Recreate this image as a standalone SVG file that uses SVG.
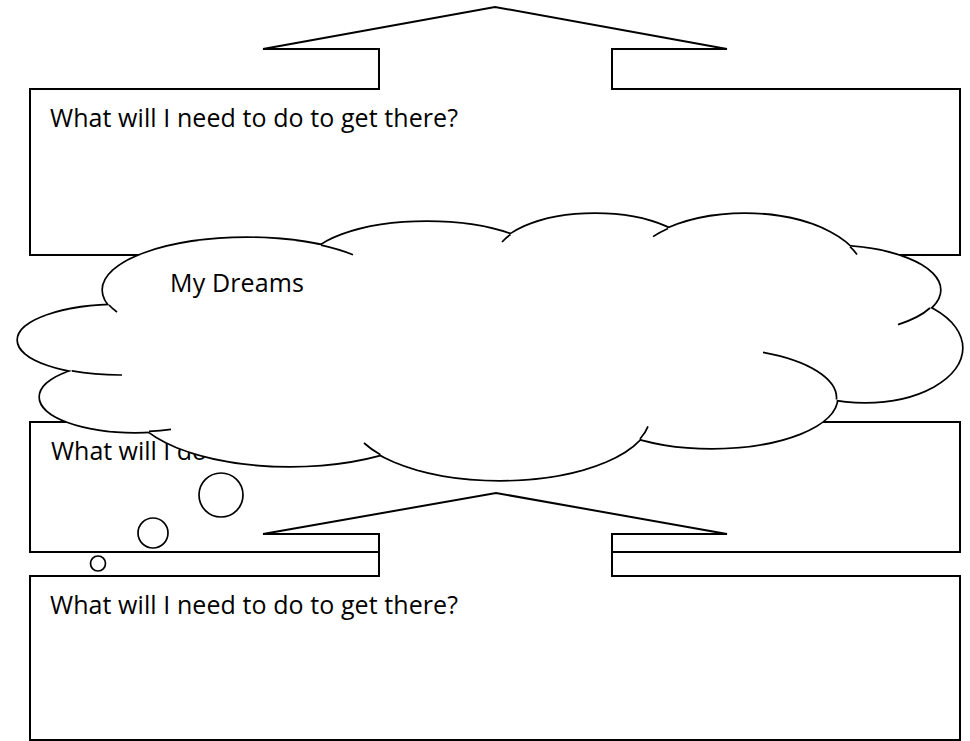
<svg xmlns="http://www.w3.org/2000/svg" xmlns:xlink="http://www.w3.org/1999/xlink" width="970" height="741" viewBox="0 0 970 741">
<style>
.box{fill:#fff;stroke:#000;stroke-width:2;stroke-linejoin:miter}
.lbl{font-family:"Open Sans","Noto Sans","Liberation Sans",sans-serif;font-size:25px;fill:#000}
.lobe{fill:#fff;stroke:#000;stroke-width:3.4}
.cover{fill:#fff;stroke:none}
.ext{fill:none;stroke:#000;stroke-width:1.7}
.bub{fill:#fff;stroke:#000;stroke-width:1.7}
</style>
<defs>
<g id="lobes">
<ellipse cx="120" cy="340" rx="102" ry="35"/>
<ellipse cx="247" cy="290" rx="144" ry="52"/>
<ellipse cx="427" cy="266" rx="120" ry="44"/>
<ellipse cx="595" cy="258" rx="100" ry="44"/>
<ellipse cx="745" cy="277" rx="120" ry="63"/>
<ellipse cx="830" cy="290" rx="110" ry="44"/>
<ellipse cx="865" cy="348" rx="97" ry="54"/>
<ellipse cx="712" cy="398" rx="125" ry="50"/>
<ellipse cx="500" cy="416" rx="150" ry="64"/>
<ellipse cx="290" cy="401" rx="160" ry="65"/>
<ellipse cx="135" cy="397" rx="95" ry="35"/>
</g>
</defs>
<rect width="970" height="741" fill="#fff"/>
<g id="box-top">
<polygon class="box" points="30,89 379,89 379,49 263,49 495,7 727,49 612,49 612,89 960,89 960,255 30,255"/>
<text class="lbl" x="50" y="127" textLength="408">What will I need to do to get there?</text>
</g>
<g id="box-middle">
<rect class="box" x="30" y="422" width="930" height="130"/>
<text class="lbl" x="51" y="460" textLength="156">What will I do</text>
</g>
<g id="box-bottom">
<polygon class="box" points="30,576 379,576 379,534 263,534 496,493 727,534 612,534 612,576 960,576 960,740 30,740"/>
<text class="lbl" x="50" y="614" textLength="408">What will I need to do to get there?</text>
</g>
<g id="connectors">
<circle class="bub" cx="221" cy="495" r="22"/>
<circle class="bub" cx="153" cy="533" r="15"/>
<circle class="bub" cx="98" cy="563.5" r="7.5"/>
</g>
<g id="cloud">
<use xlink:href="#lobes" class="lobe"/>
<use xlink:href="#lobes" class="cover"/>
<polygon class="cover" points="109,305 321,245.2 510.5,234.5 668,228.5 850,246.6 930,308 836.5,399.5 640,439 380.5,454.7 149,431.4 72,370.9"/>
<path class="ext" d="M72,370.9 A102,35 0 0 0 122,375 M109,305 A144,52 0 0 0 117,312 M321,245.2 A144,52 0 0 1 353,254.8 M510.5,234.5 A100,44 0 0 0 502,242 M668,228.5 A120,63 0 0 0 653,236.6 M850,246.6 A120,63 0 0 1 857,254.4 M930,308 A110,44 0 0 1 898,324.6 M763,352.3 A125,50 0 0 1 836.5,399.5 M640,439 A150,64 0 0 0 648,426.4 M380.5,454.7 A150,64 0 0 1 364,443 M149,431.4 A95,35 0 0 0 171,429.4"/>
<text class="lbl" x="170" y="292" textLength="134">My Dreams</text>
</g>
</svg>
